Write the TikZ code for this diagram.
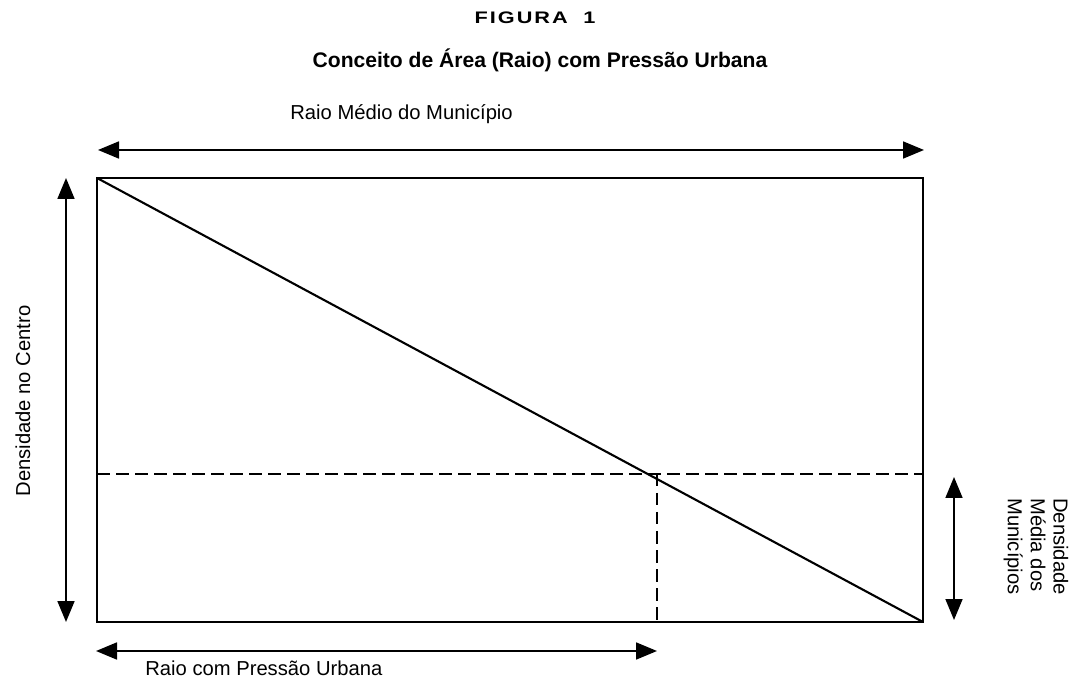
\documentclass[tikz,border=0pt]{standalone}
\usepackage{fontspec}
\setmainfont{Liberation Sans}
\usetikzlibrary{arrows.meta}

\begin{document}
\begin{tikzpicture}[
    seta/.style={line width=1pt,{Triangle[length=0.42cm,width=0.34cm]}-{Triangle[length=0.42cm,width=0.34cm]}},
    borda/.style={line width=1.4pt},
    tracejado/.style={line width=1.2pt,dash pattern=on 0.25cm off 0.13cm},
    rotulo/.style={font=\fontsize{11.5}{13}\selectfont,inner sep=0pt}
  ]
    \useasboundingbox (0,0) rectangle (21.5,13.62);
    % Titulo
    \node[inner sep=0pt] (fig) at (10.7,13.26) {\fontsize{9.5}{11}\selectfont\bfseries\addfontfeature{LetterSpace=12,FakeStretch=1.3}FIGURA\hspace{0.15cm} 1};
    \node[inner sep=0pt,anchor=base] (tit) at (10.8,12.26) {\fontsize{12}{14}\selectfont\bfseries Conceito de Área (Raio) com Pressão Urbana};
    % Retangulo e diagonal
    \coordinate (A) at (1.94,10.06);
    \coordinate (B) at (18.46,10.06);
    \coordinate (C) at (18.46,1.18);
    \coordinate (D) at (1.94,1.18);
    \draw[borda] (A) -- (B) -- (C) -- (D) -- cycle;
    \draw[line width=1.2pt] (A) -- (C);
    % Linhas tracejadas
    \coordinate (E) at (1.94,4.14);
    \coordinate (F) at (18.46,4.14);
    \coordinate (P) at (13.14,4.14);
    \draw[tracejado] (E) -- (F);
    \draw[tracejado] (P) -- (P |- D);
    % Setas e legendas
    \coordinate (s1) at (1.96,10.62);
    \coordinate (s2) at (18.48,10.62);
    \draw[seta] (s1) -- (s2);
    \node[rotulo,anchor=base west] (raio) at (5.8,11.22) {Raio Médio do Município};
    \coordinate (s3) at (1.32,10.06);
    \coordinate (s4) at (1.32,1.18);
    \draw[seta] (s3) -- (s4);
    \node[rotulo,rotate=90] (centro) at (0.46,5.6) {Densidade no Centro};
    \coordinate (s5) at (19.08,4.08);
    \coordinate (s6) at (19.08,1.22);
    \draw[seta] (s5) -- (s6);
    \node[rotulo,rotate=-90,align=left] (media) at (20.72,2.69) {Densidade\\Média dos\\Municípios};
    \coordinate (s7) at (1.92,0.6);
    \coordinate (s8) at (P |- s7);
    \draw[seta] (s7) -- (s8);
    \node[rotulo,anchor=base west] (urbana) at (2.9,0.12) {Raio com Pressão Urbana};
\end{tikzpicture}
\end{document}
